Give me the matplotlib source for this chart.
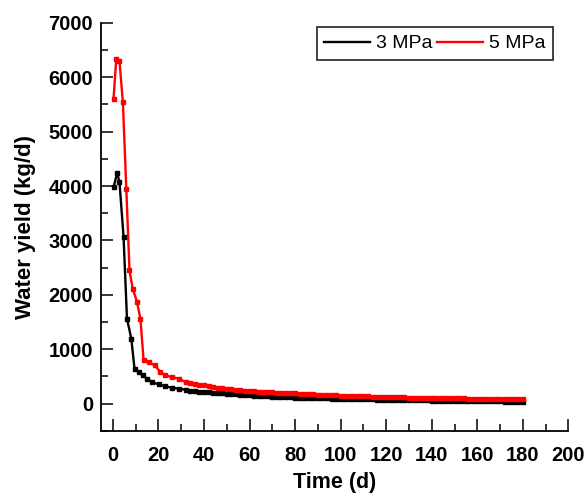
import matplotlib.pyplot as plt
from matplotlib.ticker import MultipleLocator

plt.rcParams['font.family'] = ['Liberation Sans', 'DejaVu Sans']

# 3 MPa
t_3 = [0.3, 1.9, 2.9, 4.7, 6.2, 8.1, 9.5, 11.3, 13.1, 15, 17.2, 20.1, 23.1, 26, 29, 31.9,
       34, 36, 38, 40, 42, 44, 46, 48, 50, 52, 54, 56, 58, 60, 62, 64, 66, 68, 70, 72,
       74, 76, 78, 80, 82, 84, 86, 88, 90, 92, 94, 96, 98, 100, 102, 104, 106, 108, 110,
       112, 114, 116, 118, 120, 122, 124, 126, 128, 130, 132, 134, 136, 138, 140, 142,
       144, 146, 148, 150, 152, 154, 156, 158, 160, 162, 164, 166, 168, 170, 172, 174,
       176, 178, 180]
q_3 = [3980, 4240, 4075, 3060, 1560, 1195, 643, 581, 520, 460, 397, 355, 318, 294, 276, 257,
       238, 230, 222, 215, 208, 201, 195, 189, 180, 175, 170, 165, 158, 153, 149, 145, 141,
       137, 132, 125, 121, 118, 116, 113, 110, 108, 105, 102, 100, 98, 96, 94, 92, 90, 88,
       86, 84, 82, 80, 79, 78, 76, 74, 73, 72, 70, 69, 68, 66, 65, 63, 61, 60, 58, 57, 55,
       54, 53, 52, 51, 50, 49, 48, 47, 46, 45, 44, 42, 41, 40, 39, 38, 37, 36]

# 5 MPa
t_5 = [0.3, 1.5, 2.9, 4.4, 5.9, 7.3, 8.7, 10.6, 12.1, 13.5, 15.7, 18.4, 20.9, 23.1, 26, 29, 31.9,
       34, 36, 38, 40, 42, 44, 46, 48, 50, 52, 54, 56, 58, 60, 62, 64, 66, 68, 70, 72,
       74, 76, 78, 80, 82, 84, 86, 88, 90, 92, 94, 96, 98, 100, 102, 104, 106, 108, 110,
       112, 114, 116, 118, 120, 122, 124, 126, 128, 130, 132, 134, 136, 138, 140, 142,
       144, 146, 148, 150, 152, 154, 156, 158, 160, 162, 164, 166, 168, 170, 172, 174,
       176, 178, 180]
q_5 = [5606, 6340, 6300, 5545, 3950, 2450, 2115, 1870, 1560, 796, 765, 704, 581, 520, 490, 460, 397,
       379, 362, 348, 336, 322, 308, 296, 284, 272, 264, 256, 248, 240, 232, 228, 222, 216,
       211, 207, 203, 200, 196, 192, 188, 184, 180, 176, 170, 165, 162, 159, 156, 153, 150,
       147, 144, 141, 138, 136, 134, 132, 129, 126, 124, 122, 120, 117, 115, 113, 112, 110,
       109, 107, 106, 104, 103, 101, 100, 98, 97, 96, 95, 94, 92, 91, 90, 89, 88, 87, 86,
       84, 83, 82, 81]

fig = plt.figure(figsize=(5.86, 4.97), dpi=100)
ax = fig.add_axes([0.172, 0.133, 0.798, 0.821])

ax.plot(t_3, q_3, color='black', lw=1.7, marker='s', ms=2.6, label='3 MPa')
ax.plot(t_5, q_5, color='red', lw=1.7, marker='s', ms=2.6, label='5 MPa')

ax.set_xlim(-5.3, 200)
ax.set_ylim(-500, 7000)
ax.xaxis.set_major_locator(MultipleLocator(20))
ax.xaxis.set_minor_locator(MultipleLocator(10))
ax.yaxis.set_major_locator(MultipleLocator(1000))
ax.yaxis.set_minor_locator(MultipleLocator(500))

for s in ['top', 'right']:
    ax.spines[s].set_visible(False)
for s in ['left', 'bottom']:
    ax.spines[s].set_linewidth(1.3)
ax.tick_params(which='major', direction='in', length=8.5, width=1.1, labelsize=14.5)
ax.tick_params(which='minor', direction='in', length=5, width=1.1)
ax.tick_params(axis='x', which='major', pad=11)
ax.tick_params(axis='y', which='major', pad=5.5)
for lab in ax.get_xticklabels() + ax.get_yticklabels():
    lab.set_fontweight('bold')

ax.set_xlabel('Time (d)', fontsize=15.5, fontweight='bold', labelpad=5)
ax.set_ylabel('Water yield (kg/d)', fontsize=16, fontweight='bold', labelpad=9)

leg = ax.legend(loc='upper right', bbox_to_anchor=(0.967, 0.99), ncol=2, fontsize=14,
                frameon=True, fancybox=False, handlelength=2.35, handletextpad=0.3,
                columnspacing=0.25, borderpad=0.4, borderaxespad=0)
leg.get_frame().set_edgecolor('black')
leg.get_frame().set_linewidth(1.3)
for h in leg.get_lines():
    h.set_marker('')

fig.savefig('out.png', dpi=100)
